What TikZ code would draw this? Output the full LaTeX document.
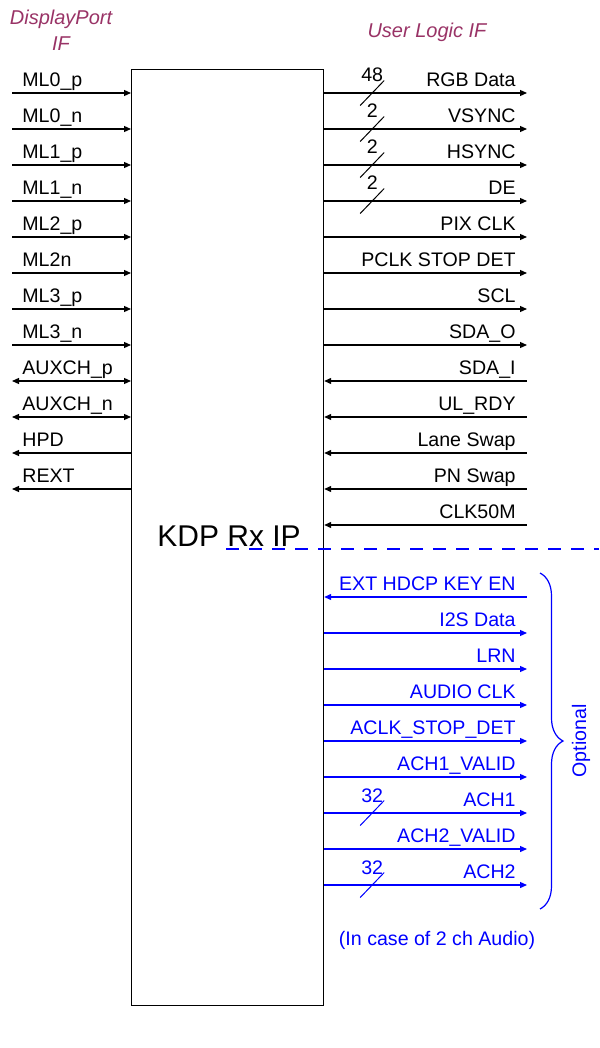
\documentclass[tikz,border=0pt]{standalone}
\usepackage{fontspec}
\setmainfont{Liberation Sans}
\usetikzlibrary{arrows.meta,calc,decorations.pathreplacing}
\definecolor{KdpPurple}{HTML}{993366}
\definecolor{KdpBlue}{HTML}{0000FF}

\begin{document}
\begin{tikzpicture}[x=0.5pt,y=-0.5pt,font=\fontsize{9.8}{11}\selectfont,
  tipend/.style={line width=0.6pt,-{Triangle[length=3.5pt,width=3pt]}},
  tipstart/.style={line width=0.6pt,{Triangle[length=3.5pt,width=3pt]}-},
  tipboth/.style={line width=0.6pt,{Triangle[length=3.5pt,width=3pt]}-{Triangle[length=3.5pt,width=3pt]}},
  sigtext/.style={inner sep=0pt},
  hdr/.style={text=KdpPurple,font=\fontsize{10}{12}\selectfont\itshape,inner sep=0pt,anchor=base},
  buswidth/.style={inner sep=0pt,anchor=base,font=\fontsize{9.8}{11}\selectfont}]
  \useasboundingbox (0,0) rectangle (599,1048);

  % IP block
  \node[draw,line width=0.6pt,anchor=north west,inner sep=0pt,
        minimum width=96pt,minimum height=468pt] (kdp) at (131,69) {};
  \node[anchor=base west,inner sep=0pt,font=\fontsize{15}{18}\selectfont] (ipname) at (157,546) {KDP Rx IP};

  % headers
  \node[hdr] (dphdr) at (61,25) {DisplayPort};
  \node[hdr] (dphdr2) at (61,51) {IF};
  \node[hdr] (ulhdr) at (427,38) {User Logic IF};

  % DisplayPort side
  \foreach \y/\nm/\lab/\dir in {93/mlzp/ML0\_p/tipend,129/mlzn/ML0\_n/tipend,
      165/mlop/ML1\_p/tipend,201/mlon/ML1\_n/tipend,237/mltp/ML2\_p/tipend,
      273/mltn/ML2n/tipend,309/mlhp/ML3\_p/tipend,345/mlhn/ML3\_n/tipend,
      381/auxp/AUXCH\_p/tipboth,417/auxn/AUXCH\_n/tipboth,
      453/hpd/HPD/tipstart,489/rext/REXT/tipstart} {
    \coordinate (l\nm) at (12,\y);
    \draw[\dir] (l\nm) -- (l\nm -| kdp.west);
    \node[sigtext,anchor=base west] (t\nm) at ($(l\nm)+(10,-6.5)$) {\lab};
  }

  % user logic side
  \foreach \y/\nm/\lab/\dir in {93/rgb/RGB Data/tipend,129/vsync/VSYNC/tipend,
      165/hsync/HSYNC/tipend,201/de/DE/tipend,237/pix/PIX CLK/tipend,
      273/pclk/PCLK STOP DET/tipend,309/scl/SCL/tipend,345/sdao/SDA\_O/tipend,
      381/sdai/SDA\_I/tipstart,417/ulrdy/UL\_RDY/tipstart,453/lane/Lane Swap/tipstart,
      489/pn/PN Swap/tipstart,525/clk/CLK50M/tipstart} {
    \coordinate (r\nm) at (527,\y);
    \draw[\dir] (r\nm -| kdp.east) -- (r\nm);
    \node[sigtext,anchor=base east] (t\nm) at ($(r\nm)+(-11,-6.5)$) {\lab};
  }

  % optional audio signals
  \foreach \y/\nm/\lab/\dir in {597/hdcp/EXT HDCP KEY EN/tipstart,633/iis/I2S Data/tipend,
      669/lrn/LRN/tipend,705/aclk/AUDIO CLK/tipend,741/astop/ACLK\_STOP\_DET/tipend,
      777/vone/ACH1\_VALID/tipend,813/achone/ACH1/tipend,849/vtwo/ACH2\_VALID/tipend,
      885/achtwo/ACH2/tipend} {
    \coordinate (r\nm) at (527,\y);
    \draw[\dir,KdpBlue] (r\nm -| kdp.east) -- (r\nm);
    \node[sigtext,anchor=base east,text=KdpBlue] (t\nm) at ($(r\nm)+(-11,-6.5)$) {\lab};
  }

  % bus widths
  \foreach \nm/\w/\c in {rgb/48/black,vsync/2/black,hsync/2/black,de/2/black,
      achone/32/KdpBlue,achtwo/32/KdpBlue} {
    \draw[\c,line width=0.5pt] ($(r\nm -| kdp.east)+(36,12.5)$) -- ++(24,-25);
    \node[buswidth,text=\c] (w\nm) at ($(r\nm -| kdp.east)+(48,-11)$) {\w};
  }

  % optional part
  \coordinate (optl) at (226,549);
  \coordinate (optr) at (599,549);
  \draw[KdpBlue,line width=0.8pt,dash pattern=on 6.5pt off 5pt] (optl) -- (optr);
  \coordinate (brtop) at (540,573);
  \coordinate (brbot) at (540,909);
  \draw[KdpBlue,line width=0.6pt,decorate,decoration={brace,amplitude=11.5pt}] (brtop) -- (brbot);
  \node[text=KdpBlue,rotate=90,inner sep=0pt] (opt) at (581,741) {Optional};
  \node[text=KdpBlue,inner sep=0pt,anchor=base] (audio) at (437,945) {(In case of 2 ch Audio)};
\end{tikzpicture}
\end{document}
